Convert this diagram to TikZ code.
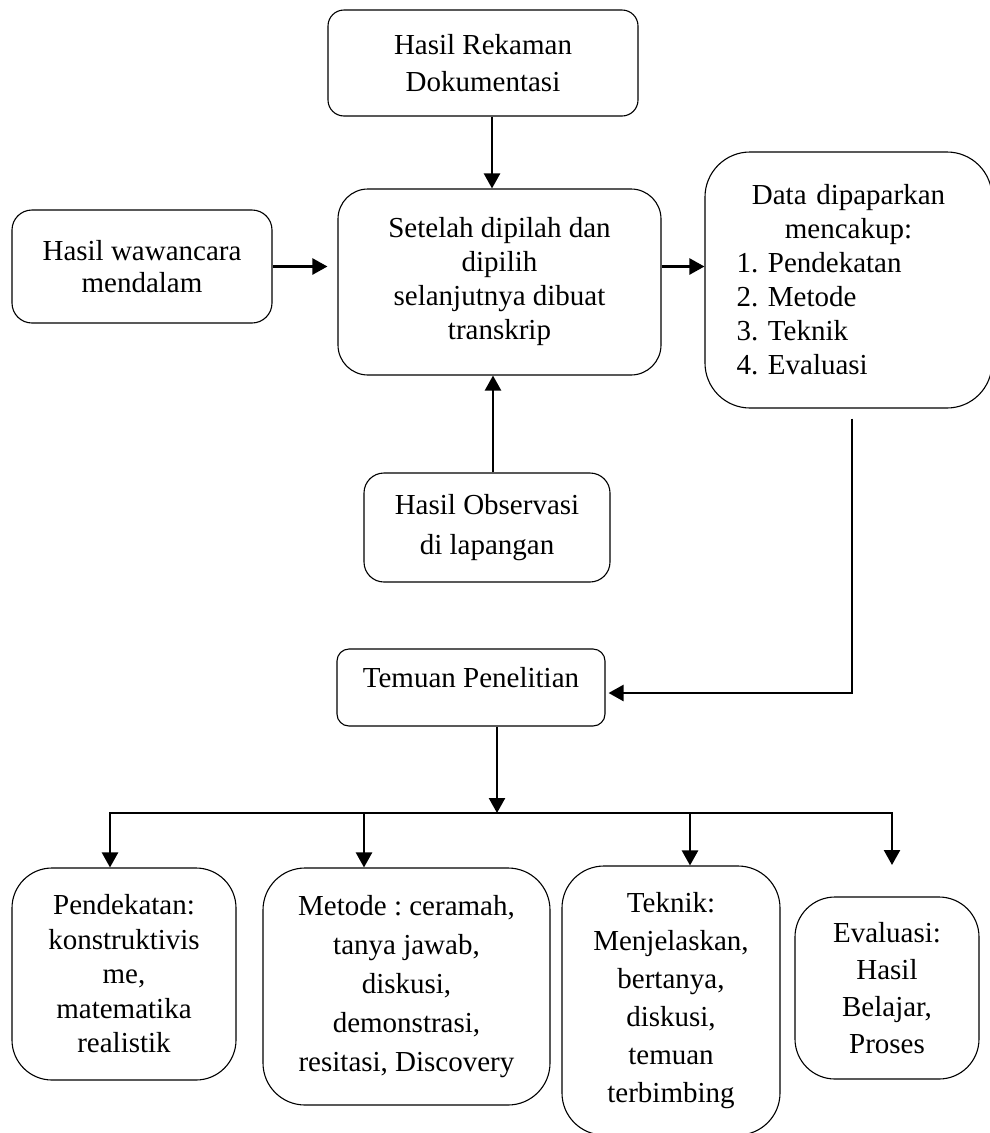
\documentclass[tikz,border=0pt]{standalone}
\usepackage{fontspec}
\setmainfont{Liberation Serif}
\usetikzlibrary{arrows.meta}
\frenchspacing
\begin{document}
\begin{tikzpicture}[x=1pt,y=-1pt,
  box/.style={draw, line width=1.1pt, align=center, inner sep=0pt,
    font=\fontsize{29}{35}\selectfont},
  arr/.style={line width=2.4pt, -{Triangle[length=15pt,width=16pt]}},
  wire/.style={line width=2.4pt, line cap=rect}]
\useasboundingbox (0,0) rectangle (990,1133);

% sources
\node[box, minimum width=310pt, minimum height=106pt, rounded corners=16pt,
  font=\fontsize{29}{37}\selectfont] (rek) at (483,63) {Hasil Rekaman\\Dokumentasi};
\node[box, minimum width=260pt, minimum height=113pt, rounded corners=20pt,
  font=\fontsize{29}{32}\selectfont] (waw) at (142,266.5) {Hasil wawancara\\mendalam};
\node[box, minimum width=323pt, minimum height=186pt, rounded corners=30pt,
  font=\fontsize{29}{34}\selectfont] (sel) at (499.5,282)
  {Setelah dipilah dan\\dipilih\\selanjutnya dibuat\\transkrip};
\node[box, minimum width=287pt, minimum height=256pt, rounded corners=45pt,
  text width=224pt, align=left, font=\fontsize{29}{34}\selectfont] (dat) at (848.5,280)
  {\centering Data dipaparkan\\mencakup:\par
   \raggedright 1. Pendekatan\\2. Metode\\3. Teknik\\4. Evaluasi};
\node[box, minimum width=246pt, minimum height=109pt, rounded corners=20pt,
  font=\fontsize{29}{40}\selectfont] (obs) at (487,527.5) {Hasil Observasi\\di lapangan};

% findings
\node[box, minimum width=268pt, minimum height=77pt, rounded corners=12pt,
  text depth=20pt] (tem) at (471,687.5) {Temuan Penelitian};

% categories
\node[box, minimum width=224pt, minimum height=212pt, rounded corners=40pt,
  font=\fontsize{29}{34.5}\selectfont] (pen) at (124,974)
  {Pendekatan:\\konstruktivis\\me,\\matematika\\realistik};
\node[box, minimum width=287pt, minimum height=237pt, rounded corners=42pt,
  font=\fontsize{29}{39}\selectfont] (met) at (406.5,986.5)
  {Metode : ceramah,\\tanya jawab,\\diskusi,\\demonstrasi,\\resitasi, Discovery};
\node[box, minimum width=218pt, minimum height=269pt, rounded corners=42pt,
  font=\fontsize{29}{38}\selectfont] (tek) at (671,1000.5)
  {Teknik:\\Menjelaskan,\\bertanya,\\diskusi,\\temuan\\terbimbing};
\node[box, minimum width=184pt, minimum height=182pt, rounded corners=40pt,
  font=\fontsize{29}{37}\selectfont] (eva) at (887,988)
  {Evaluasi:\\Hasil\\Belajar,\\Proses};

% connectors into the transcript box
\draw[arr] ([xshift=9pt]rek.south) -- ([xshift=9pt]rek.south |- sel.north);
\draw[arr] (waw.east) -- ([xshift=-10pt]sel.west |- waw.east);
\draw[arr] ([xshift=6pt]obs.north) -- ([xshift=6pt]obs.north |- sel.south);
\draw[arr] (sel.east |- waw.east) -- (dat.west |- waw.east);

% presented data to findings
\coordinate (turn) at (852,693);
\draw[arr] ([yshift=-10pt]dat.south -| turn) -- (turn) -- ([xshift=3pt]tem.east |- turn);

% findings to categories
\coordinate (hub) at (497,813);
\coordinate (b1) at (110,813);
\coordinate (b2) at (364,813);
\coordinate (b3) at (690,813);
\coordinate (b4) at (892,813);
\coordinate (t4) at (892,865);
\draw[arr] (tem.south -| hub) -- (hub);
\draw[wire] (b1) -- (b4);
\draw[arr] (b1) -- (b1 |- pen.north);
\draw[arr] (b2) -- (b2 |- met.north);
\draw[arr] (b3) -- (b3 |- tek.north);
\draw[arr] (b4) -- (t4);
\end{tikzpicture}
\end{document}
